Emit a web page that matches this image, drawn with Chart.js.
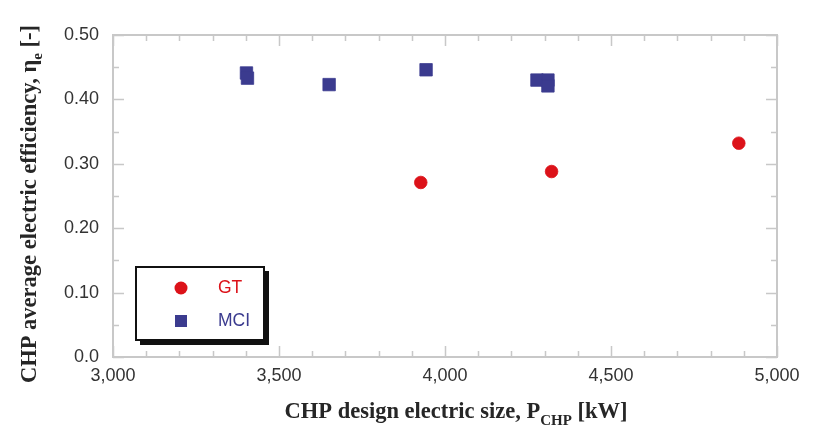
<!DOCTYPE html>
<html><head><meta charset="utf-8">
<script src="https://cdn.jsdelivr.net/npm/chart.js@4"></script>
<style>html,body{margin:0;padding:0;background:#fff}#wrap{width:813px;height:430px;position:relative}</style>
</head><body><div id="wrap"><canvas id="c" width="813" height="430"></canvas></div>
<script>
const seriesNames = ['GT', 'MCI'];
const gtSize = [3927, 4321, 4885];
const gtEff = [0.271, 0.288, 0.332];
const mciSize = [3402, 3405, 3651, 3943, 4277, 4310, 4310];
const mciEff = [0.441, 0.433, 0.423, 0.446, 0.430, 0.430, 0.421];
const xTickValues = [3000, 3500, 4000, 4500, 5000];
const xTickLabels = ['3,000', '3,500', '4,000', '4,500', '5,000'];
const yTickValues = [0, 0.1, 0.2, 0.3, 0.4, 0.5];
const yTickLabels = ['0.0', '0.10', '0.20', '0.30', '0.40', '0.50'];
const xTitleParts = ['CHP design electric size, P', 'CHP', ' [kW]'];
const yTitleParts = ['CHP average electric efficiency, \u03b7', 'e', ' [-]'];

const RED = '#dc1219';
const BLUE = '#3b3b8f';
const FRAME = '#c8c8c8';
const SANS = '"Liberation Sans", Arial, sans-serif';
const SERIF = '"Liberation Serif", "Times New Roman", serif';

function drawTitle(ctx, parts, size, subSize, subDrop) {
  ctx.font = 'bold ' + size + 'px ' + SERIF;
  const w0 = ctx.measureText(parts[0]).width;
  const w2 = ctx.measureText(parts[2]).width;
  ctx.font = 'bold ' + subSize + 'px ' + SERIF;
  const w1 = ctx.measureText(parts[1]).width;
  const total = w0 + w1 + w2;
  let x = -total / 2;
  ctx.textAlign = 'left';
  ctx.textBaseline = 'alphabetic';
  ctx.font = 'bold ' + size + 'px ' + SERIF;
  ctx.fillText(parts[0], x, 0);
  x += w0;
  ctx.font = 'bold ' + subSize + 'px ' + SERIF;
  ctx.fillText(parts[1], x, subDrop);
  x += w1;
  ctx.font = 'bold ' + size + 'px ' + SERIF;
  ctx.fillText(parts[2], x, 0);
}

const decor = {
  id: 'decor',
  beforeDatasetsDraw(chart) {
    const ctx = chart.ctx;
    const a = chart.chartArea;
    const xs = chart.scales.x, ys = chart.scales.y;
    ctx.save();
    ctx.strokeStyle = FRAME;
    ctx.lineWidth = 2;
    ctx.strokeRect(a.left, a.top, a.right - a.left, a.bottom - a.top);
    ctx.lineWidth = 1.5;
    ctx.beginPath();
    for (let v = xs.min; v <= xs.max + 1e-6; v += 100) {
      const major = xTickValues.some(t => Math.abs(t - v) < 1e-6);
      const len = major ? 11 : 6;
      const px = Math.round(xs.getPixelForValue(v)) + 0.5;
      ctx.moveTo(px, a.bottom); ctx.lineTo(px, a.bottom - len);
      ctx.moveTo(px, a.top); ctx.lineTo(px, a.top + len);
    }
    for (let i = 0; i <= 10; i++) {
      const v = i * 0.05;
      const major = i % 2 === 0;
      const len = major ? 11 : 6;
      const py = Math.round(ys.getPixelForValue(v)) + 0.5;
      ctx.moveTo(a.left, py); ctx.lineTo(a.left + len, py);
      ctx.moveTo(a.right, py); ctx.lineTo(a.right - len, py);
    }
    ctx.stroke();
    ctx.restore();
  },
  afterDatasetsDraw(chart) {
    const ctx = chart.ctx;
    const a = chart.chartArea;
    ctx.save();
    ctx.fillStyle = '#262626';
    ctx.save();
    ctx.translate(36, 204);
    ctx.rotate(-Math.PI / 2);
    drawTitle(ctx, yTitleParts, 22.5, 15, 6);
    ctx.restore();
    ctx.save();
    ctx.translate(456, 418);
    drawTitle(ctx, xTitleParts, 22.5, 15, 7);
    ctx.restore();

    const bx = 136, by = 267, bw = 128, bh = 73;
    ctx.fillStyle = '#111';
    ctx.fillRect(bx + 4, by + 4, bw + 1, bh + 1);
    ctx.fillStyle = '#fff';
    ctx.fillRect(bx, by, bw, bh);
    ctx.strokeStyle = '#111';
    ctx.lineWidth = 2;
    ctx.strokeRect(bx, by, bw, bh);
    const ds = chart.data.datasets;
    const rows = [288, 321];
    ds.forEach((d, i) => {
      ctx.fillStyle = d.backgroundColor;
      if (d.pointStyle === 'circle') {
        ctx.beginPath(); ctx.arc(181, rows[i], 6.5, 0, Math.PI * 2); ctx.fill();
      } else {
        ctx.fillRect(175, rows[i] - 6, 12, 12);
      }
      ctx.font = '17.5px ' + SANS;
      ctx.textAlign = 'left';
      ctx.textBaseline = 'middle';
      ctx.fillText(d.label, 218, rows[i]);
    });
    ctx.restore();
  }
};

new Chart(document.getElementById('c'), {
  type: 'scatter',
  data: {
    datasets: [
      {
        label: seriesNames[0],
        data: gtSize.map((x, i) => ({ x: x, y: gtEff[i] })),
        pointStyle: 'circle', pointRadius: 6.3, borderWidth: 0.8,
        backgroundColor: RED, borderColor: RED
      },
      {
        label: seriesNames[1],
        data: mciSize.map((x, i) => ({ x: x, y: mciEff[i] })),
        pointStyle: 'rect', pointRadius: 8.8, borderWidth: 0.8,
        backgroundColor: BLUE, borderColor: BLUE
      }
    ]
  },
  options: {
    responsive: false,
    animation: false,
    events: [],
    layout: { padding: { top: 35, right: 36, left: 0, bottom: 0 } },
    plugins: { legend: { display: false }, tooltip: { enabled: false } },
    scales: {
      x: {
        type: 'linear', min: 3000, max: 5000,
        afterFit(s) { s.height = 73; },
        afterBuildTicks(s) { s.ticks = xTickValues.map(v => ({ value: v })); },
        grid: { display: false, drawTicks: false },
        border: { display: false },
        ticks: {
          autoSkip: false, maxRotation: 0, padding: 8,
          color: '#333', font: { family: SANS, size: 18 },
          callback: (v, i) => xTickLabels[i]
        }
      },
      y: {
        type: 'linear', min: 0, max: 0.5,
        afterFit(s) { s.width = 113; },
        afterBuildTicks(s) { s.ticks = yTickValues.map(v => ({ value: v })); },
        grid: { display: false, drawTicks: false },
        border: { display: false },
        ticks: {
          autoSkip: false, padding: 14,
          color: '#333', font: { family: SANS, size: 18 },
          callback: (v, i) => yTickLabels[i]
        }
      }
    }
  },
  plugins: [decor]
});
</script>
</body></html>
